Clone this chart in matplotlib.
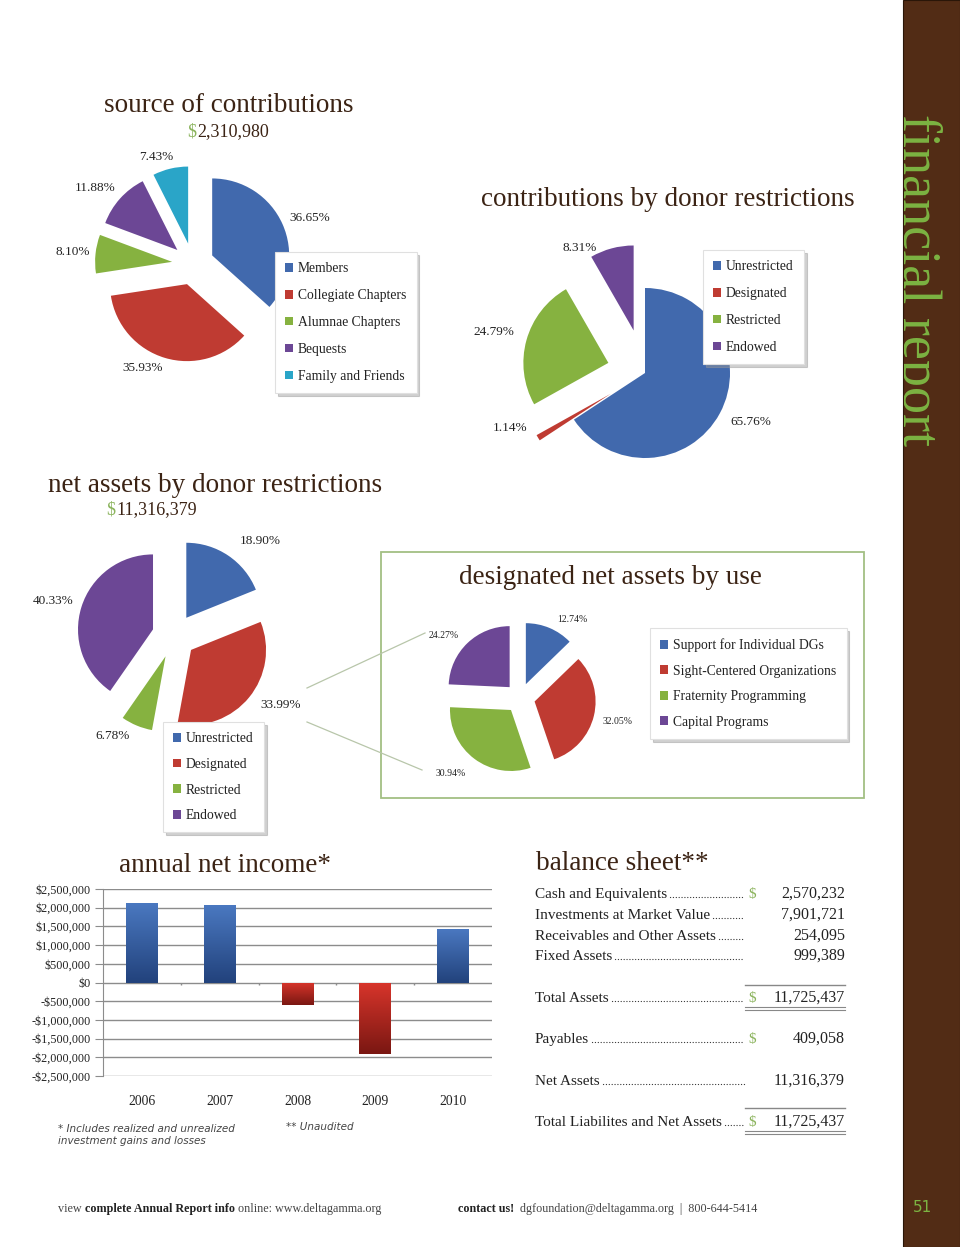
import numpy as np
import matplotlib
matplotlib.use('Agg')
import matplotlib.pyplot as plt
from matplotlib.patches import Rectangle
from matplotlib.colors import LinearSegmentedColormap
from matplotlib.transforms import Bbox, TransformedBbox

W, H = 960, 1247

# ---- data ----
src_labels = ['Members', 'Collegiate Chapters', 'Alumnae Chapters', 'Bequests', 'Family and Friends']
src_pct = [36.65, 35.93, 8.10, 11.88, 7.43]
src_total = '2,310,980'

restr_labels = ['Unrestricted', 'Designated', 'Restricted', 'Endowed']
contrib_pct = [65.76, 1.14, 24.79, 8.31]

net_pct = [18.90, 33.99, 6.78, 40.33]
net_total = '11,316,379'

use_labels = ['Support for Individual DGs', 'Sight-Centered Organizations',
              'Fraternity Programming', 'Capital Programs']
use_pct = [12.74, 32.05, 30.94, 24.27]

years = ['2006', '2007', '2008', '2009', '2010']
income = [2120000, 2080000, -600000, -1920000, 1420000]

bs_labels = ['Cash and Equivalents', 'Investments at Market Value', 'Receivables and Other Assets',
             'Fixed Assets', 'Total Assets', 'Payables', 'Net Assets', 'Total Liabilites and Net Assets']
bs_values = [2570232, 7901721, 254095, 999389, 11725437, 409058, 11316379, 11725437]
bs_dollar = [True, False, False, False, True, True, False, True]

# ---- style ----
SERIF = 'Liberation Serif'
BROWN = '#3b2314'
GREEN = '#8cb45e'
BANNER = '#522c15'
BLUE, RED, LGREEN, PURPLE, CYAN = '#4169ad', '#bf3b32', '#86b240', '#6c4795', '#2aa5c8'
TXT = '#222222'

fig = plt.figure(figsize=(W / 100, H / 100), dpi=100)
ax = fig.add_axes([0, 0, 1, 1])


def Y(y):
    return H - y


def pie(cx, cy, r, vals, cols, expl):
    w, _ = ax.pie(vals, colors=cols, radius=r, center=(cx, Y(cy)), startangle=90,
                  counterclock=False, explode=expl, frame=True,
                  wedgeprops=dict(linewidth=0))
    return w


def pct_labels(vals, pos, fs=9.5):
    for v, (x, y) in zip(vals, pos):
        ax.text(x, Y(y), f'{v:.2f}%', ha='center', va='center', fontsize=fs,
                family=SERIF, color=TXT)


def legend(handles, labels, x0, y0, fs=9.8, sp=1.05):
    lg = fig.legend(handles, labels, loc='upper left', bbox_to_anchor=(x0 / W, 1 - y0 / H),
                    borderaxespad=0, frameon=True, fancybox=False,
                    shadow={'color': '#999999', 'alpha': 0.45},
                    prop=dict(family=SERIF, size=fs), handlelength=0.6, handleheight=0.6,
                    handletextpad=0.35, labelspacing=sp, borderpad=0.75)
    lg.get_frame().set_edgecolor('#e0e0e0')
    lg.get_frame().set_linewidth(0.8)
    for t in lg.get_texts():
        t.set_color(TXT)
    return lg


def title(x, y, s, ha='center', fs=19.5):
    ax.text(x, Y(y), s, ha=ha, va='center', fontsize=fs, family=SERIF, color=BROWN)


def total(x, y, s, fs=13):
    ax.text(x, Y(y), '$', ha='right', va='center', fontsize=fs, family=SERIF, color=GREEN)
    ax.text(x + 1, Y(y), s, ha='left', va='center', fontsize=fs, family=SERIF, color=BROWN)


# ---- source of contributions ----
title(229, 106, 'source of contributions')
total(196, 132, src_total)
w1 = pie(193, 264, 77, src_pct, [BLUE, RED, LGREEN, PURPLE, CYAN], [21] * 5)
pct_labels(src_pct, [(310, 218), (143, 368), (73, 252), (95, 188), (156, 157)])
legend(w1, src_labels, 275, 252, sp=1.02)

# ---- contributions by donor restrictions ----
title(668, 200, 'contributions by donor restrictions')
w2 = pie(645, 373, 85, contrib_pct, [BLUE, RED, LGREEN, PURPLE], [0, 40, 38, 44])
pct_labels(contrib_pct, [(751, 422), (510, 428), (494, 332), (580, 248)])
legend(w2, restr_labels, 703, 250, sp=1.02)

# ---- net assets by donor restrictions ----
title(215, 485, 'net assets by donor restrictions')
total(115, 510, net_total)
w3 = pie(174, 636, 75, net_pct, [BLUE, RED, LGREEN, PURPLE], [22] * 4)
pct_labels(net_pct, [(260, 541), (281, 705), (113, 736), (53, 601)])
legend(w3, restr_labels, 163, 722, sp=0.93)

# connector lines to the designated box
ax.plot([307, 425], [Y(688), Y(633)], color='#b8c6aa', lw=0.9)
ax.plot([307, 422], [Y(722), Y(770)], color='#b8c6aa', lw=0.9)

# ---- designated net assets by use ----
ax.add_patch(Rectangle((381, Y(798)), 483, 246, fill=False, edgecolor='#a3bf84', lw=1.3))
title(610, 577, 'designated net assets by use')
w4 = pie(520, 698, 61, use_pct, [BLUE, RED, LGREEN, PURPLE], [15] * 4)
pct_labels(use_pct, [(572, 619), (618, 722), (451, 773), (444, 635)], fs=7)
legend(w4, use_labels, 650, 628, sp=0.92)

# ---- side banner ----
ax.add_patch(Rectangle((903, 0), 57, H, facecolor=BANNER, edgecolor='#2a1608', lw=0.8))
side = ax.text(903, Y(114), 'financial report', rotation=270, rotation_mode='anchor',
               ha='left', va='baseline', fontsize=39, family=SERIF, color='#7cb342',
               clip_on=True)
side.set_clip_path(None)
side.set_clip_box(TransformedBbox(Bbox([[904, 0], [W, H]]), ax.transData))
ax.text(922, Y(1207), '51', ha='center', va='center', fontsize=11,
        family='Liberation Sans Narrow', color='#7cb342')

# ---- annual net income ----
title(225, 866, 'annual net income*')
ax.text(58, Y(1135), '* Includes realized and unrealized\ninvestment gains and losses', ha='left',
        va='center', fontsize=7.5, style='italic', family='DejaVu Sans', color='#444444',
        linespacing=1.3)
ax.text(286, Y(1127), '** Unaudited', ha='left', va='center', fontsize=7.5, style='italic',
        family='DejaVu Sans', color='#444444')

# ---- balance sheet ----
title(536, 864, 'balance sheet**', ha='left')
rows_y = [893, 914, 935, 955, 997, 1038, 1080, 1121]
lab_txt = []
for lab, v, d, y in zip(bs_labels, bs_values, bs_dollar, rows_y):
    t = ax.text(535, Y(y + 5), lab, ha='left', va='baseline', fontsize=11, family=SERIF, color=TXT)
    lab_txt.append((t, y))
    if d:
        ax.text(752, Y(y + 5), '$', ha='center', va='baseline', fontsize=11, family=SERIF, color=GREEN)
    ax.text(845, Y(y + 5), f'{v:,}', ha='right', va='baseline', fontsize=11.5, family=SERIF, color=TXT)

for yy in [985, 1108]:
    ax.plot([745, 845], [Y(yy), Y(yy)], color='#888888', lw=1)
for yy in [1007, 1010, 1131, 1134]:
    ax.plot([745, 845], [Y(yy), Y(yy)], color='#888888', lw=0.8)

# ---- footer ----
FOOT = '#444444'
FS = 8.7
f1 = ax.text(58, Y(1215), 'view ', ha='left', va='bottom', fontsize=FS, family=SERIF, color=FOOT)
f2 = ax.annotate('complete Annual Report info', xy=(1, 0), xycoords=f1, ha='left', va='bottom',
                 fontsize=FS, family=SERIF, weight='bold', color='#222222')
ax.annotate(' online: www.deltagamma.org', xy=(1, 0), xycoords=f2, ha='left', va='bottom',
            fontsize=FS, family=SERIF, color=FOOT)
g1 = ax.text(458, Y(1215), 'contact us!', ha='left', va='bottom', fontsize=FS, family=SERIF,
             weight='bold', color='#222222')
ax.annotate('  dgfoundation@deltagamma.org  |  800-644-5414', xy=(1, 0), xycoords=g1, ha='left',
            va='bottom', fontsize=FS, family=SERIF, color=FOOT)

ax.set_xlim(0, W)
ax.set_ylim(0, H)
ax.axis('off')

# ---- bar chart ----
bx = fig.add_axes([103 / W, 1 - 1076 / H, 389 / W, 187 / H])
xs = np.arange(len(years))
bars = bx.bar(xs, income, width=0.41, color='none', zorder=3)
cm_blue = LinearSegmentedColormap.from_list('b', ['#22427c', '#4a78c0'])
cm_red = LinearSegmentedColormap.from_list('r', ['#7a1712', '#d8352b'])
grad = np.linspace(0, 1, 100).reshape(-1, 1)
for b, v in zip(bars, income):
    y0, y1 = sorted([b.get_y(), b.get_y() + b.get_height()])
    im = bx.imshow(grad, extent=[b.get_x(), b.get_x() + b.get_width(), y0, y1], origin='lower',
                   cmap=cm_blue if v > 0 else cm_red, aspect='auto', zorder=3)
    im.set_clip_path(b)
bx.vlines(xs[:-1] + 0.5, -80000, 0, color='#8c8c8c', lw=1, zorder=2)
bx.set_xlim(-0.5, len(years) - 0.5)
bx.set_ylim(-2.5e6, 2.5e6)
bx.set_yticks(np.arange(-2.5e6, 2.6e6, 5e5))
bx.yaxis.set_major_formatter(plt.FuncFormatter(
    lambda v, p: f'${v:,.0f}' if v >= 0 else f'-${-v:,.0f}'))
bx.set_xticks(xs)
bx.set_xticklabels(years)
bx.yaxis.grid(True, color='#8c8c8c', lw=1)
bx.set_axisbelow(True)
for s in ['top', 'right', 'bottom']:
    bx.spines[s].set_visible(False)
bx.spines['left'].set_color('#8c8c8c')
bx.tick_params(axis='x', length=0, pad=14, labelsize=9.8, labelfontfamily=SERIF, labelcolor=TXT)
bx.tick_params(axis='y', length=6, color='#8c8c8c', pad=3, labelsize=8.7, labelfontfamily=SERIF,
               labelcolor=TXT)
bx.patch.set_alpha(0)

# leader dots for the balance sheet
fig.canvas.draw()
r = fig.canvas.get_renderer()
for t, y in lab_txt:
    bb = t.get_window_extent(r)
    ax.plot([bb.x1 + 3, 744], [Y(y + 5) + 1, Y(y + 5) + 1], color='#333333', lw=0.9,
            ls=(0, (0.1, 2.2)), dash_capstyle='round')

fig.savefig('out.png', dpi=100)
